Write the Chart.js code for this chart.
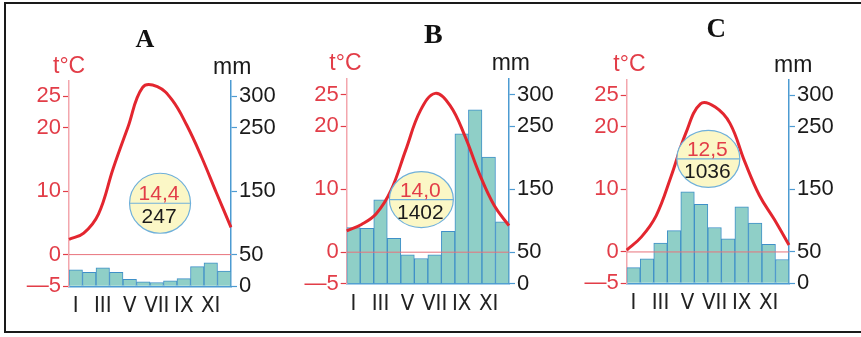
<!DOCTYPE html>
<html><head><meta charset="utf-8">
<script src="https://cdn.jsdelivr.net/npm/chart.js@4.4.1/dist/chart.umd.min.js"></script>
<style>
html,body{margin:0;padding:0;background:#fff;}
#wrap{position:relative;width:861px;height:337px;overflow:hidden;background:#fff;}
#frame{position:absolute;left:4px;top:2px;width:900px;height:327px;border:2px solid #1a1a1a;}
canvas{position:absolute;top:0;}
</style></head><body>
<div id="wrap">
<div id="frame"></div>
<canvas id="cA" width="285" height="337" style="left:0px;width:285px;height:337px"></canvas>
<canvas id="cB" width="285" height="337" style="left:285px;width:285px;height:337px"></canvas>
<canvas id="cC" width="291" height="337" style="left:570px;width:291px;height:337px"></canvas>
</div>
<script>
// ---- data ----
const months = ['I','II','III','IV','V','VI','VII','VIII','IX','X','XI','XII'];
const tempTicks = [-5, 0, 10, 20, 25];
const precipTicks = [0, 50, 150, 250, 300];
const titles = ['A', 'B', 'C'];
const meanTemps = ['14,4', '14,0', '12,5'];
const annualPrecip = ['247', '1402', '1036'];
const tempA = [2.4, 3.4, 6.4, 13.6, 20.1, 26.4, 26.5, 24.4, 20.4, 15.4, 9.8, 4.3];
const precipA = [26, 22, 29, 22, 11, 7, 6, 8.5, 12, 31, 37, 24];
const tempB = [3.4, 4.4, 6.1, 9.8, 16.2, 22.5, 25.2, 23.3, 18.5, 12.4, 7.4, 4.2];
const precipB = [89, 88, 133, 72, 46, 40, 46, 83, 238, 276, 201, 98];
const tempC = [0.3, 2.4, 5.8, 12.0, 18.9, 23.6, 23.1, 20.5, 14.4, 9.0, 5.2, 1.1];
const precipC = [25, 39, 64, 84, 146, 126, 89, 71, 122, 96, 62, 38];

// ---- styles ----
const RED_LINE = '#e3262f';
const RED_TEXT = '#e23d48';
const PINK = '#f3a6ad';
const BLUE = '#4d9bd2';
const BAR_FILL = '#8fcfc7';
const BAR_EDGE = '#3f90c8';
const CIRCLE_FILL = '#fbf7c6';
const CIRCLE_EDGE = '#6fb0da';
const ZERO = '#e8737c';
const SANS = '"Liberation Sans", Arial, sans-serif';
const NARROW = '"Liberation Sans Narrow", "DejaVu Sans Condensed", "Liberation Sans", sans-serif';
const SERIF = '"Liberation Serif", "Times New Roman", serif';
const H = 337;

const decoPlugin = {
  id: 'deco',
  afterDatasetsDraw(chart, args, o) {
    const {ctx, chartArea: a, scales} = chart;
    const yT = scales.y;
    const y0 = yT.getPixelForValue(0);
    ctx.save();
    ctx.strokeStyle = ZERO; ctx.lineWidth = 1;
    ctx.beginPath(); ctx.moveTo(a.left, y0); ctx.lineTo(a.right, y0); ctx.stroke();
    const cx = a.left + o.cx * (a.right - a.left);
    const cy = yT.getPixelForValue(o.cy);
    ctx.beginPath(); ctx.ellipse(cx, cy, o.rx, o.ry, 0, 0, Math.PI * 2);
    ctx.fillStyle = CIRCLE_FILL; ctx.fill();
    ctx.lineWidth = 1.2; ctx.strokeStyle = CIRCLE_EDGE; ctx.stroke();
    ctx.beginPath(); ctx.moveTo(cx - o.rx, cy); ctx.lineTo(cx + o.rx, cy); ctx.stroke();
    ctx.font = '21px ' + SANS;
    ctx.textAlign = 'center'; ctx.textBaseline = 'alphabetic';
    ctx.fillStyle = RED_TEXT; ctx.fillText(o.mean, cx - 1, cy - 3);
    ctx.fillStyle = '#1a1a1a'; ctx.fillText(o.sum, cx - 1, cy + 19.5);
    ctx.restore();
  },
  afterDraw(chart, args, o) {
    const {ctx} = chart;
    ctx.save();
    ctx.textBaseline = 'alphabetic';
    ctx.font = 'bold ' + o.titleSize + 'px ' + SERIF;
    ctx.textAlign = 'center'; ctx.fillStyle = '#111';
    ctx.fillText(o.title, o.titleX, o.titleY);
    ctx.font = '23px ' + SANS;
    ctx.textAlign = 'left';
    ctx.fillStyle = RED_TEXT; ctx.fillText('t°C', o.tcX, o.tcY);
    ctx.fillStyle = '#1a1a1a'; ctx.fillText('mm', o.mmX, o.mmY);
    ctx.restore();
  }
};

function makeChart(id, temps, precip, lay, deco) {
  return new Chart(document.getElementById(id), {
    type: 'bar',
    data: {
      labels: months,
      datasets: [
        { type: 'bar', data: precip, xAxisID: 'x', yAxisID: 'y2', order: 1, grouped: false,
          backgroundColor: BAR_FILL, borderColor: BAR_EDGE, borderWidth: 1,
          barPercentage: 1, categoryPercentage: 1 },
        { type: 'line', data: temps, xAxisID: 'x2', yAxisID: 'y', order: 0,
          borderColor: RED_LINE, borderWidth: 3, tension: 0.4, pointRadius: 0, fill: false }
      ]
    },
    options: {
      responsive: false, animation: false,
      layout: { padding: { left: lay.padL, right: lay.padR, top: lay.top, bottom: 0 } },
      plugins: { legend: { display: false }, tooltip: { enabled: false }, deco: deco },
      scales: {
        x: { type: 'category', offset: true,
          afterFit: s => { s.height = H - lay.bottom; },
          grid: { display: false, drawTicks: false, offset: true },
          border: { display: true, color: BLUE, width: 1.5 },
          ticks: { autoSkip: false, maxRotation: 0, padding: 7, color: '#222',
            font: { family: NARROW, size: 22 },
            callback: function (v, i) { return i % 2 === 0 ? this.getLabelForValue(v) : ''; } } },
        x2: { type: 'category', offset: false, display: false, grid: { offset: false } },
        y: { type: 'linear', position: 'left', min: -5, max: 27.5,
          afterBuildTicks: s => { s.ticks = tempTicks.map(v => ({ value: v })); },
          afterFit: s => { s.width = 45; },
          grid: { drawOnChartArea: false, drawTicks: true, tickLength: 6, tickColor: RED_TEXT, tickWidth: 1.2 },
          border: { display: true, color: PINK, width: 1.5 },
          ticks: { color: RED_TEXT, padding: 2, font: { family: SANS, size: 22 },
            callback: v => (v === -5 ? '—5' : String(v)) } },
        y2: { type: 'linear', position: 'right', min: 0, max: 325,
          afterBuildTicks: s => { s.ticks = precipTicks.map(v => ({ value: v })); },
          afterFit: s => { s.width = 50; },
          grid: { drawOnChartArea: false, drawTicks: true, tickLength: 6, tickColor: BLUE, tickWidth: 1.2 },
          border: { display: true, color: BLUE, width: 1.5 },
          ticks: { color: '#1a1a1a', padding: 2, font: { family: SANS, size: 22 },
            callback: v => String(v) } }
      }
    },
    plugins: [decoPlugin]
  });
}

makeChart('cA', tempA, precipA,
  { padL: 24, padR: 4, top: 80.3, bottom: 286.3 },
  { title: titles[0], titleSize: 26, titleX: 145, titleY: 46.5, tcX: 53, tcY: 73, mmX: 213, mmY: 74,
    cx: 0.562, cy: 8.1, rx: 30.5, ry: 30, mean: meanTemps[0], sum: annualPrecip[0] });
makeChart('cB', tempB, precipB,
  { padL: 16.7, padR: 11, top: 78.9, bottom: 283.7 },
  { title: titles[1], titleSize: 28, titleX: 148.3, titleY: 42.5, tcX: 44.3, tcY: 70, mmX: 206.7, mmY: 70,
    cx: 0.46, cy: 8.35, rx: 32, ry: 28, mean: meanTemps[1], sum: annualPrecip[1] });
makeChart('cC', tempC, precipC,
  { padL: 11.7, padR: 22, top: 79.5, bottom: 283.3 },
  { title: titles[2], titleSize: 27, titleX: 146.3, titleY: 36.5, tcX: 43.3, tcY: 71, mmX: 204, mmY: 71.5,
    cx: 0.503, cy: 14.85, rx: 31.5, ry: 28.5, mean: meanTemps[2], sum: annualPrecip[2] });
</script>
</body></html>
